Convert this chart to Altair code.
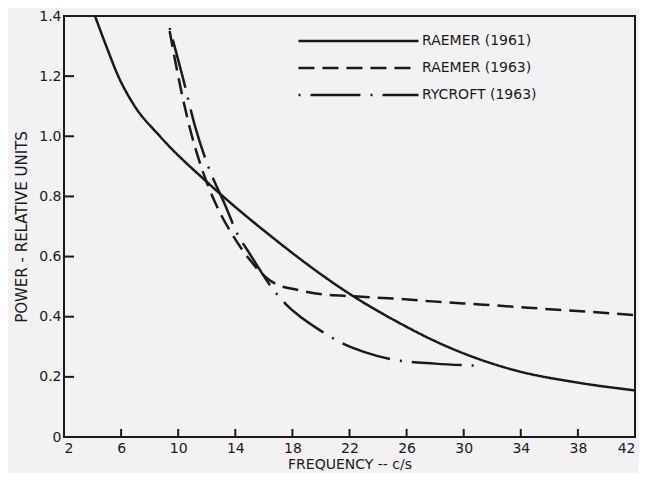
import altair as alt
import pandas as pd

series_names = ["RAEMER (1961)", "RAEMER (1963)", "RYCROFT (1963)"]

raemer61_freq = [4.17, 5.0, 5.8, 6.86, 8.72, 12.2, 16.2, 22.27, 25.5, 28.3, 33.5, 38.1, 42.0]
raemer61_pow = [1.40, 1.295, 1.20, 1.107, 1.0, 0.84, 0.679, 0.468, 0.379, 0.312, 0.223, 0.18, 0.155]

raemer63_freq = [9.4, 10.0, 10.8, 11.6, 12.7, 13.86, 15.0, 16.2, 17.0, 18.0, 20.16, 22.27, 25.5, 27.8, 30.0, 33.0, 36.0, 39.0, 42.0]
raemer63_pow = [1.35, 1.20, 1.03, 0.90, 0.768, 0.668, 0.59, 0.529, 0.505, 0.493, 0.474, 0.468, 0.459, 0.451, 0.444, 0.435, 0.425, 0.416, 0.405]

rycroft63_freq = [9.4, 10.3, 11.2, 12.1, 13.3, 14.1, 15.0, 15.8, 16.5, 17.25, 17.7, 18.7, 19.7, 21.7, 23.0, 25.1, 28.0, 31.0]
rycroft63_pow = [1.36, 1.20, 1.03, 0.90, 0.77, 0.68, 0.61, 0.55, 0.50, 0.457, 0.434, 0.395, 0.362, 0.307, 0.283, 0.257, 0.244, 0.237]

x_ticks = [2, 6, 10, 14, 18, 22, 26, 30, 34, 38, 42]
y_ticks = [0, 0.2, 0.4, 0.6, 0.8, 1.0, 1.2, 1.4]

rows = []
for name, fs, ps in [
    (series_names[0], raemer61_freq, raemer61_pow),
    (series_names[1], raemer63_freq, raemer63_pow),
    (series_names[2], rycroft63_freq, rycroft63_pow),
]:
    for i, (f, p) in enumerate(zip(fs, ps)):
        rows.append({"series": name, "freq": f, "power": p, "order": i})
df = pd.DataFrame(rows)

INK = "#1a1a1a"
FONT = "DejaVu Sans"
W, H = 571, 421
X_DOM = [2, 42]
Y_DOM = [0, 1.4]
XTICK_LEN = 8   # px, inward
YTICK_LEN = 10  # px, inward

x_scale = alt.Scale(domain=X_DOM, nice=False, zero=False)
y_scale = alt.Scale(domain=Y_DOM, nice=False, zero=False)

x_axis = alt.Axis(
    values=x_ticks,
    ticks=False,
    tickSize=0,
    domain=False,
    grid=False,
    labelPadding=4,
    labelFlush=True,
    title="FREQUENCY -- c/s",
    titleY=27,
    titleBaseline="middle",
    titleFontSize=14,
)
y_axis = alt.Axis(
    values=y_ticks,
    ticks=False,
    tickSize=0,
    domain=False,
    grid=False,
    labelPadding=3,
    labelFlush=False,
    labelExpr="datum.value == 0 ? '0' : format(datum.value, '.1f')",
    title="POWER - RELATIVE UNITS",
    titleX=-43,
    titleBaseline="middle",
)

# inward tick marks, drawn through the scales (tick length converted to data units)
x_tick_len_data = (Y_DOM[1] - Y_DOM[0]) * XTICK_LEN / H
y_tick_len_data = (X_DOM[1] - X_DOM[0]) * YTICK_LEN / W

x_tick_marks = (
    alt.Chart(pd.DataFrame({"freq": x_ticks}))
    .mark_rule(color=INK, strokeWidth=2)
    .encode(
        x=alt.X("freq:Q", scale=x_scale, axis=x_axis),
        y=alt.datum(Y_DOM[0]),
        y2=alt.datum(Y_DOM[0] + x_tick_len_data),
    )
)

y_tick_marks = (
    alt.Chart(pd.DataFrame({"power": y_ticks}))
    .mark_rule(color=INK, strokeWidth=2)
    .encode(
        y=alt.Y("power:Q", scale=y_scale, axis=y_axis),
        x=alt.datum(X_DOM[0]),
        x2=alt.datum(X_DOM[0] + y_tick_len_data),
    )
)

lines = (
    alt.Chart(df)
    .mark_line(color=INK, strokeWidth=2.5, interpolate="monotone", clip=True)
    .encode(
        x=alt.X("freq:Q", scale=x_scale, axis=x_axis),
        y=alt.Y("power:Q", scale=y_scale, axis=y_axis),
        strokeDash=alt.StrokeDash(
            "series:N",
            scale=alt.Scale(domain=series_names, range=[[1, 0], [16, 8], [2, 10, 50, 10]]),
            legend=alt.Legend(
                orient="none",
                legendX=233,
                legendY=18,
                title=None,
                symbolType="stroke",
                symbolSize=14400,
                symbolStrokeWidth=2.5,
                symbolStrokeColor=INK,
                clipHeight=14,
                rowPadding=13,
                labelFontSize=14,
                labelFont=FONT,
                labelColor=INK,
                labelOffset=2,
                symbolOffset=0,
                padding=0,
            ),
        ),
        order="order:Q",
        detail="series:N",
    )
)

chart = (
    alt.layer(x_tick_marks, y_tick_marks, lines)
    .properties(
        width=W,
        height=H,
        background="#f2f2f2",
        autosize=alt.AutoSizeParams(type="none"),
        padding={"left": 56, "top": 8, "right": 4, "bottom": 36},
    )
    .configure_view(stroke=INK, strokeWidth=2)
    .configure_axis(
        labelFont=FONT,
        titleFont=FONT,
        labelFontSize=14,
        titleFontSize=15,
        titleFontWeight="normal",
        labelColor=INK,
        titleColor=INK,
    )
)

chart.save("out.html", embed_options={"renderer": "svg", "actions": False})
